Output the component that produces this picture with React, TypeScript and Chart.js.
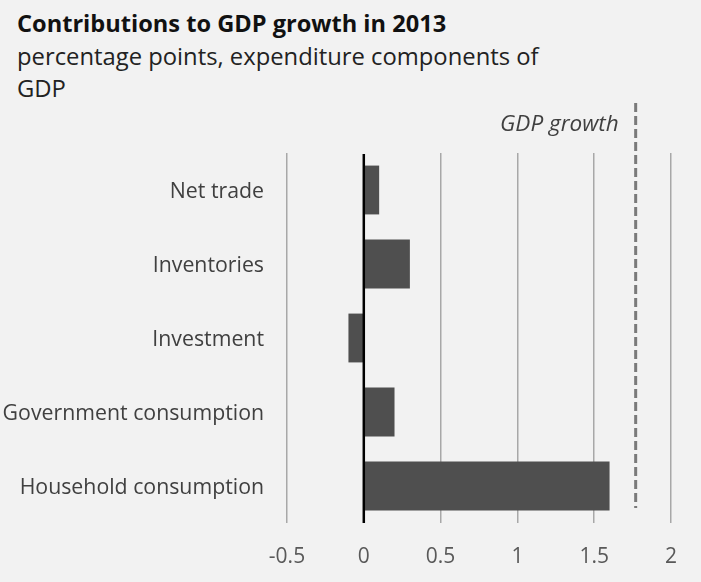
import React, { useEffect, useRef } from "react";
import { Chart, registerables } from "chart.js";

Chart.register(...registerables);

const categories = [
  "Net trade",
  "Inventories",
  "Investment",
  "Government consumption",
  "Household consumption",
];
const contributions = [0.1, 0.3, -0.1, 0.2, 1.6];
const gdpGrowth = 1.77;
const gdpLabel = "GDP growth";
const xTicks = [-0.5, 0, 0.5, 1, 1.5, 2];
const titleText = "Contributions to GDP growth in 2013";
const subtitleLines = ["percentage points, expenditure components of", "GDP"];

const FONT = "'Open Sans', 'DejaVu Sans', sans-serif";

const overlayPlugin = {
  id: "overlay",
  afterDatasetsDraw(chart: any) {
    const { ctx, chartArea, scales } = chart;
    const x = scales.x;
    // zero line
    const x0 = x.getPixelForValue(0);
    ctx.save();
    ctx.strokeStyle = "#000000";
    ctx.lineWidth = 2.5;
    ctx.beginPath();
    ctx.moveTo(x0, chartArea.top + 1);
    ctx.lineTo(x0, chartArea.bottom);
    ctx.stroke();
    // GDP growth dashed line
    const xg = x.getPixelForValue(gdpGrowth);
    ctx.strokeStyle = "#7a7a7a";
    ctx.lineWidth = 3;
    ctx.setLineDash([9, 4]);
    ctx.beginPath();
    ctx.moveTo(xg, chartArea.top - 50);
    ctx.lineTo(xg, chartArea.bottom - 15);
    ctx.stroke();
    ctx.setLineDash([]);
    // label
    ctx.fillStyle = "#404040";
    ctx.font = `italic 22.5px ${FONT}`;
    ctx.textAlign = "right";
    ctx.textBaseline = "alphabetic";
    ctx.fillText(gdpLabel, xg - 17, chartArea.top - 22);
    ctx.restore();
  },
};

export default function App() {
  const ref = useRef<HTMLCanvasElement>(null);

  useEffect(() => {
    if (!ref.current) return;
    const chart = new Chart(ref.current, {
      type: "bar",
      data: {
        labels: categories,
        datasets: [
          {
            data: contributions,
            backgroundColor: "#4f4f4f",
            borderWidth: 0,
            barPercentage: 0.66,
            categoryPercentage: 1,
          },
        ],
      },
      options: {
        indexAxis: "y",
        responsive: false,
        animation: false,
        layout: { padding: { top: 153, right: 30, left: 0, bottom: 0 } },
        plugins: {
          legend: { display: false },
          tooltip: { enabled: false },
          title: { display: false },
        },
        scales: {
          x: {
            type: "linear",
            min: xTicks[0],
            max: xTicks[xTicks.length - 1],
            afterBuildTicks: (scale: any) => {
              scale.ticks = xTicks.map((v) => ({ value: v }));
            },
            afterFit: (scale: any) => {
              scale.height = 59;
            },
            grid: {
              color: (c: any) => (c.tick && c.tick.value === 0 ? "rgba(0,0,0,0)" : "#a8a8a8"),
              lineWidth: 1.5,
              drawTicks: false,
            },
            border: { display: false },
            ticks: {
              color: "#595959",
              font: { family: FONT, size: 21 },
              padding: 21,
              callback: (v: any) => String(v),
            },
          },
          y: {
            type: "category",
            afterFit: (scale: any) => {
              scale.width = 287;
            },
            grid: { display: false, drawTicks: false },
            border: { display: false },
            ticks: {
              color: "#404040",
              font: { family: FONT, size: 21.3 },
              padding: 23,
              labelOffset: 2,
            },
          },
        },
      },
      plugins: [overlayPlugin],
    } as any);
    return () => chart.destroy();
  }, []);

  return (
    <div
      style={{
        position: "absolute",
        left: 0,
        top: 0,
        width: 701,
        height: 582,
        background: "#f2f2f2",
        overflow: "hidden",
      }}
    >
      <div
        style={{
          position: "absolute",
          left: 17,
          top: 6,
          fontFamily: FONT,
          fontWeight: 700,
          fontSize: 23.6,
          lineHeight: "34px",
          color: "#111111",
          whiteSpace: "nowrap",
        }}
      >
        {titleText}
      </div>
      <div
        style={{
          position: "absolute",
          left: 17,
          top: 40,
          fontFamily: FONT,
          fontSize: 23.8,
          lineHeight: "32px",
          color: "#222222",
          whiteSpace: "nowrap",
        }}
      >
        {subtitleLines.map((l, i) => (
          <div key={i}>{l}</div>
        ))}
      </div>
      <canvas
        ref={ref}
        width={701}
        height={582}
        style={{ position: "absolute", left: 0, top: 0, width: 701, height: 582 }}
      />
    </div>
  );
}
